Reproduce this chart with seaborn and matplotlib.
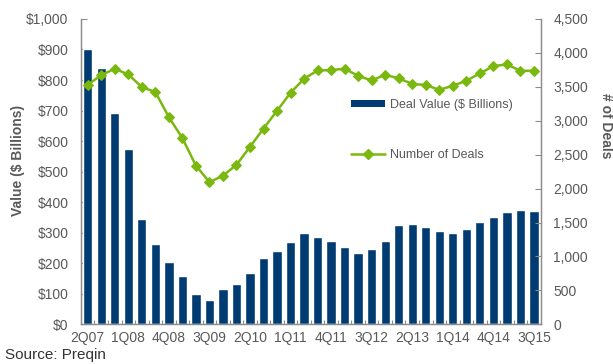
import numpy as np
import pandas as pd
import matplotlib
matplotlib.use("Agg")
import matplotlib.pyplot as plt
from matplotlib.lines import Line2D
from matplotlib.patches import Patch
from matplotlib.ticker import FuncFormatter, MultipleLocator, FixedLocator
import seaborn as sns

# Quarterly buyout deal data
quarters = ["2Q07", "3Q07", "4Q07", "1Q08", "2Q08", "3Q08", "4Q08", "1Q09",
            "2Q09", "3Q09", "4Q09", "1Q10", "2Q10", "3Q10", "4Q10", "1Q11",
            "2Q11", "3Q11", "4Q11", "1Q12", "2Q12", "3Q12", "4Q12", "1Q13",
            "2Q13", "3Q13", "4Q13", "1Q14", "2Q14", "3Q14", "4Q14", "1Q15",
            "2Q15", "3Q15"]
deal_value = [903, 840, 692, 573, 346, 262, 203, 159, 98, 81, 116, 133, 167,
              216, 239, 269, 298, 286, 272, 252, 232, 246, 273, 324, 328, 318,
              307, 299, 313, 334, 352, 367, 375, 371]
num_deals = [3530, 3672, 3766, 3682, 3496, 3422, 3053, 2743, 2340, 2095, 2190,
             2350, 2615, 2885, 3146, 3412, 3618, 3741, 3746, 3766, 3662, 3593,
             3677, 3623, 3544, 3525, 3456, 3515, 3589, 3697, 3805, 3830, 3736,
             3736]
shown_labels = ["2Q07", "1Q08", "4Q08", "3Q09", "2Q10", "1Q11", "4Q11", "3Q12",
                "2Q13", "1Q14", "4Q14", "3Q15"]

df = pd.DataFrame({"quarter": quarters, "value": deal_value, "deals": num_deals})
df["pos"] = np.arange(len(df))

sns.set_theme(style="white")
plt.rcParams["font.family"] = ["Liberation Sans", "DejaVu Sans"]

BAR = "#003B71"
LINE = "#7AB80F"
TXT = "#595959"
AX = "#8C8C8C"

fig = plt.figure(figsize=(6.13, 3.64), dpi=100)
ax = fig.add_axes([0.1321, 0.109, 0.882 - 0.1321, 0.948 - 0.109])

sns.barplot(data=df, x="quarter", y="value", color=BAR, saturation=1,
            width=0.69, ax=ax, order=quarters)
ax.set_xlim(-0.5, len(quarters) - 0.5)
ax.set_ylim(0, 1000)
ax.yaxis.set_major_locator(MultipleLocator(100))
ax.yaxis.set_major_formatter(FuncFormatter(lambda v, p: f"${v:,.0f}"))

ax2 = ax.twinx()
sns.lineplot(data=df, x="pos", y="deals", color=LINE, linewidth=1.8,
             marker="D", markersize=5.5, markeredgecolor=LINE, ax=ax2)
ax2.set_ylim(0, 4500)
ax2.yaxis.set_major_locator(MultipleLocator(500))
ax2.yaxis.set_major_formatter(FuncFormatter(lambda v, p: f"{v:,.0f}"))
ax2.set_xlim(-0.5, len(quarters) - 0.5)

# x ticks: labels every third quarter, small marks at category boundaries
ax.set_xticks([quarters.index(q) for q in shown_labels])
ax.set_xticklabels(shown_labels)
ax.xaxis.set_minor_locator(FixedLocator(np.arange(0.5, len(quarters) - 1, 1.0)))
ax.tick_params(axis="x", which="major", length=0, pad=5, labelsize=10,
               labelcolor=TXT)
ax.tick_params(axis="x", which="minor", length=3, direction="in", color=AX,
               width=0.8, bottom=True)
ax.tick_params(axis="y", length=4, direction="in", color=AX, width=0.8,
               pad=9, labelsize=10, labelcolor=TXT, left=True)
ax2.tick_params(axis="y", length=4, direction="in", color=AX, width=0.8,
                pad=9, labelsize=10, labelcolor=TXT, right=True)

for a in (ax, ax2):
    a.set_xlabel("")
    a.set_ylabel("")
    a.grid(False)
    a.spines["top"].set_visible(False)
    for s in ("left", "right", "bottom"):
        a.spines[s].set_color(AX)
        a.spines[s].set_linewidth(0.9)

fig.text(0.029, 0.558, "Value ($ Billions)", rotation=90, ha="center",
         va="center", fontsize=10, fontweight="bold", color=TXT)
fig.text(0.988, 0.655, "# of Deals", rotation=270, ha="center", va="center",
         fontsize=10, fontweight="bold", color=TXT)
fig.text(0.008, 0.006, "Source: Preqin", ha="left", va="bottom", fontsize=11,
         color="#333333")

handles = [Patch(facecolor=BAR, edgecolor="none"),
           Line2D([0], [0], color=LINE, linewidth=1.8, marker="D",
                  markersize=5)]
fig.legend(handles, ["Deal Value ($ Billions)", "Number of Deals"],
           loc="upper left", bbox_to_anchor=(351 / 613, 1 - 99 / 364),
           frameon=False, fontsize=9, labelcolor=TXT, handlelength=2.75,
           handleheight=0.5, handletextpad=0.35, labelspacing=3.0,
           borderpad=0, borderaxespad=0)

fig.savefig("out.png", dpi=100)
